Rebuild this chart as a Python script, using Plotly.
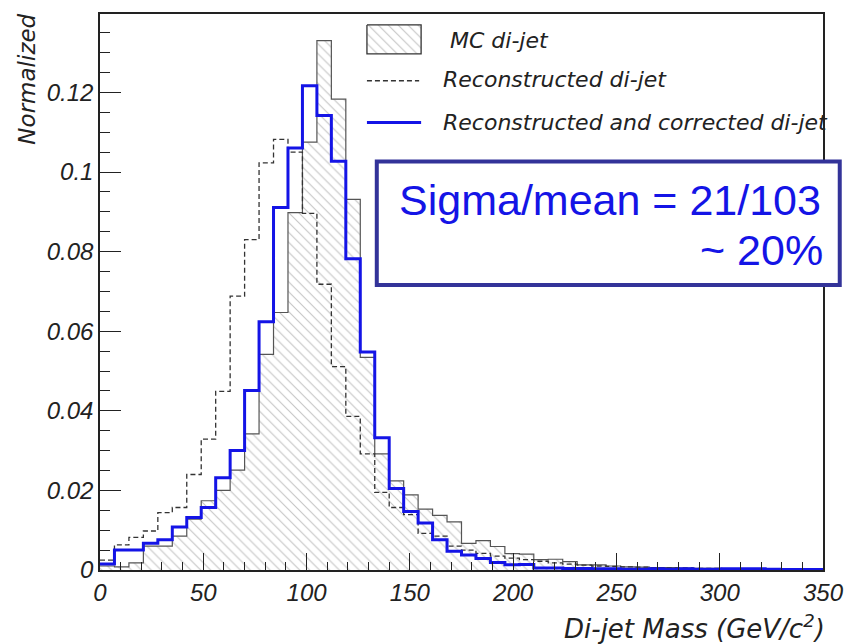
import numpy as np
import plotly.graph_objects as go

# ---------------- data (normalized di-jet mass histograms, 7 GeV bins) ----------------
bin_edges_gev = list(range(0, 351, 7))  # 0..350

mc_dijet = [0.0010, 0.0008, 0.0018, 0.0060, 0.0060, 0.0085, 0.0128, 0.0174, 0.0200, 0.0251,
            0.0342, 0.0542, 0.0647, 0.0898, 0.1075, 0.1330, 0.1183, 0.0931, 0.0534, 0.0292,
            0.0224, 0.0189, 0.0153, 0.0137, 0.0121, 0.0067, 0.0074, 0.0059, 0.0041, 0.0040,
            0.0026, 0.0027, 0.0021, 0.0013, 0.0013, 0.0010, 0.0008, 0.0007, 0.0006, 0.0006,
            0.0005, 0.0004, 0.0004, 0.0003, 0.0003, 0.0002, 0.0002, 0.0002, 0.0001, 0.0001]

reco_dijet = [0.0025, 0.0063, 0.0082, 0.0098, 0.0144, 0.0157, 0.0240, 0.0329, 0.0449, 0.0688,
              0.0830, 0.1023, 0.1082, 0.1050, 0.0896, 0.0718, 0.0511, 0.0386, 0.0292, 0.0195,
              0.0157, 0.0139, 0.0092, 0.0085, 0.0060, 0.0050, 0.0042, 0.0035, 0.0030, 0.0026,
              0.0022, 0.0018, 0.0015, 0.0012, 0.0010, 0.0009, 0.0008, 0.0007, 0.0006, 0.0005,
              0.0005, 0.0004, 0.0004, 0.0003, 0.0003, 0.0002, 0.0002, 0.0002, 0.0001, 0.0001]

corr_dijet = [0.0015, 0.0050, 0.0050, 0.0067, 0.0076, 0.0108, 0.0132, 0.0157, 0.0232, 0.0300,
              0.0451, 0.0624, 0.0911, 0.1060, 0.1217, 0.1142, 0.1027, 0.0782, 0.0548, 0.0332,
              0.0205, 0.0147, 0.0118, 0.0076, 0.0047, 0.0038, 0.0029, 0.0019, 0.0013, 0.0014,
              0.0005, 0.0005, 0.0004, 0.0004, 0.0003, 0.0003, 0.0002, 0.0002, 0.0003, 0.0002,
              0.0003, 0.0002, 0.0002, 0.0003, 0.0003, 0.0003, 0.0002, 0.0001, 0.0001, 0.0001]

x_tick_vals = [0, 50, 100, 150, 200, 250, 300, 350]
y_tick_vals = [0, 0.02, 0.04, 0.06, 0.08, 0.1, 0.12]
y_tick_text = ["0", "0.02", "0.04", "0.06", "0.08", "0.1", "0.12"]

legend_labels = ["MC di-jet", "Reconstructed di-jet", "Reconstructed and corrected di-jet"]
box_lines = ["Sigma/mean = 21/103", "~ 20%"]

# ---------------- layout geometry (pixels) ----------------
W, H = 856, 644
L, R, T, B = 100, 22, 12, 74
PW, PH = W - L - R, H - T - B


def px(x):
    return (x - L) / PW


def py(y):
    return (H - B - y) / PH


def step(vals):
    return list(vals) + [vals[-1]]


fig = go.Figure()

fig.add_trace(go.Scatter(
    x=bin_edges_gev, y=step(mc_dijet), mode="lines", line_shape="hv",
    line=dict(color="#555555", width=1.2), fill="tozeroy",
    fillcolor="rgba(0,0,0,0)",
    fillpattern=dict(shape="\\", fgcolor="#8a8a8a", bgcolor="rgba(255,255,255,0)",
                     size=7, solidity=0.16),
    name=legend_labels[0], showlegend=False))

fig.add_trace(go.Scatter(
    x=bin_edges_gev, y=step(reco_dijet), mode="lines", line_shape="hv",
    line=dict(color="#333333", width=1.3, dash="5px,3px"),
    name=legend_labels[1], showlegend=False))

fig.add_trace(go.Scatter(
    x=bin_edges_gev, y=step(corr_dijet), mode="lines", line_shape="hv",
    line=dict(color="#1414e6", width=3),
    name=legend_labels[2], showlegend=False))

# hatched legend swatch (on pixel overlay axes)
fig.add_trace(go.Scatter(
    x=[371, 426, 426, 371, 371], y=[23, 23, 52, 52, 23], xaxis="x2", yaxis="y2",
    mode="lines", line=dict(color="#333333", width=1.3), fill="toself",
    fillcolor="rgba(0,0,0,0)",
    fillpattern=dict(shape="\\", fgcolor="#8a8a8a", bgcolor="rgba(255,255,255,0)",
                     size=7, solidity=0.16),
    showlegend=False, hoverinfo="skip"))

tickfont = dict(family="Liberation Sans", size=24, color="#222222", style="italic")

fig.update_layout(
    width=W, height=H,
    margin=dict(l=L, r=R, t=T, b=B, pad=0),
    paper_bgcolor="white", plot_bgcolor="white",
    showlegend=False,
    xaxis=dict(range=[0, 350], tickvals=x_tick_vals, ticks="inside", ticklen=17,
               tickwidth=1.3, tickcolor="#222222", tickfont=tickfont, layer="above traces",
               minor=dict(dtick=10, ticks="inside", ticklen=8, tickwidth=1.3, tickcolor="#222222"),
               showline=True, linecolor="#222222", linewidth=1.5, mirror=True,
               showgrid=False, zeroline=False),
    yaxis=dict(range=[0, 0.1397], tickvals=y_tick_vals, ticktext=y_tick_text,
               ticks="inside", ticklen=21, tickwidth=1.3, tickcolor="#222222", tickfont=tickfont,
               layer="above traces",
               minor=dict(dtick=0.005, ticks="inside", ticklen=10, tickwidth=1.3, tickcolor="#222222"),
               showline=True, linecolor="#222222", linewidth=1.5, mirror=True,
               showgrid=False, zeroline=False),
    xaxis2=dict(range=[L, W - R], overlaying="x", anchor="y2", visible=False),
    yaxis2=dict(range=[H - B, T], overlaying="y", anchor="x2", visible=False),
)

shapes = []
# legend line swatches
shapes.append(dict(type="line", xref="paper", yref="paper", x0=px(371), x1=px(424),
                   y0=py(79), y1=py(79), line=dict(color="#333333", width=1.3, dash="5px,3px")))
shapes.append(dict(type="line", xref="paper", yref="paper", x0=px(371), x1=px(426),
                   y0=py(121), y1=py(121), line=dict(color="#1414e6", width=3)))
# blue result box
shapes.append(dict(type="rect", xref="paper", yref="paper", x0=px(381), x1=px(851),
                   y0=py(160), y1=py(284), line=dict(color="#333399", width=4),
                   fillcolor="white", layer="above"))
fig.update_layout(shapes=shapes)

legfont = dict(family="DejaVu Sans", size=22, color="#222222", style="italic")
ann = []
ann.append(dict(x=px(453), y=py(39), xref="paper", yref="paper", text=legend_labels[0],
                showarrow=False, xanchor="left", yanchor="middle", font=legfont))
ann.append(dict(x=px(446), y=py(78), xref="paper", yref="paper", text=legend_labels[1],
                showarrow=False, xanchor="left", yanchor="middle", font=legfont))
ann.append(dict(x=px(446), y=py(121), xref="paper", yref="paper", text=legend_labels[2],
                showarrow=False, xanchor="left", yanchor="middle", font=legfont))

boxfont = dict(family="Liberation Sans", size=43, color="#1414e6")
ann.append(dict(x=px(834), y=py(199), xref="paper", yref="paper", text=box_lines[0],
                showarrow=False, xanchor="right", yanchor="middle", font=boxfont))
ann.append(dict(x=px(836), y=py(249), xref="paper", yref="paper", text=box_lines[1],
                showarrow=False, xanchor="right", yanchor="middle", font=boxfont))

# axis titles
ann.append(dict(x=px(838), y=py(627), xref="paper", yref="paper",
                text="Di-jet Mass (GeV/c<sup>2</sup>)", showarrow=False,
                xanchor="right", yanchor="middle",
                font=dict(family="DejaVu Sans", size=26, color="#222222", style="italic")))
ann.append(dict(x=px(25), y=py(10), xref="paper", yref="paper", text="Normalized",
                showarrow=False, textangle=-90, xanchor="center", yanchor="top",
                font=dict(family="DejaVu Sans", size=23, color="#222222", style="italic")))
fig.update_layout(annotations=ann)

fig.write_html("out.html")
